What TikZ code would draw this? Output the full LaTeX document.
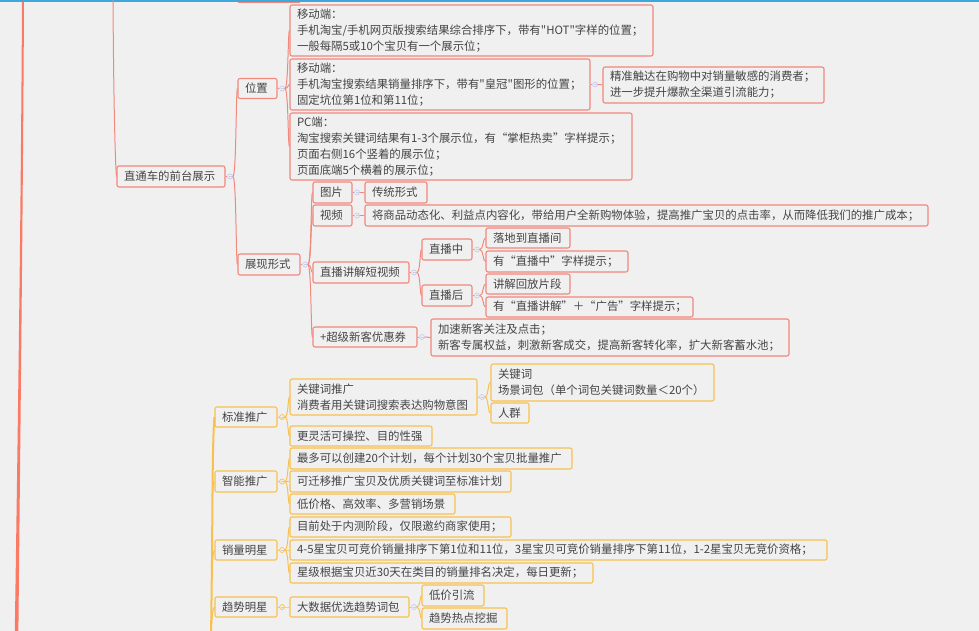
\documentclass[tikz,border=0pt]{standalone}
\usepackage{fontspec}
\usetikzlibrary{calc}
\newfontfamily\cjkfont{Noto Sans CJK SC}
\definecolor{bg}{HTML}{F0F0F0}
\definecolor{redl}{HTML}{F0897C}
\definecolor{yell}{HTML}{F9C050}
\definecolor{txt}{HTML}{444444}
\definecolor{trunk}{HTML}{FA7A66}
\definecolor{lav}{HTML}{C9CCEB}
\definecolor{blue}{HTML}{3EA8DC}
\tikzset{
  boxbase/.style={rounded corners=2pt,line width=1.1pt,fill=bg,text=txt,inner sep=0pt,align=left,
    font=\cjkfont\fontsize{11.4}{16}\selectfont},
  rbox/.style={boxbase,draw=redl},
  ybox/.style={boxbase,draw=yell},
  rlink/.style={draw=redl,line width=1pt},
  ylink/.style={draw=yell,line width=1pt},
  lavdot/.style={circle,draw=lav,fill=bg,line width=.7pt,minimum size=5pt,inner sep=0pt},
  yeldot/.style={circle,draw=yell,fill=bg,line width=.7pt,minimum size=5pt,inner sep=0pt},
}
% name, style, x1, y1, x2, y2, text
\newcommand{\nb}[7]{%
  \pgfmathsetmacro{\bw}{#5-#3}\pgfmathsetmacro{\bh}{#6-#4}%
  \pgfmathsetmacro{\tw}{#5-#3-14}%
  \node[#2,minimum width=\bw pt,minimum height=\bh pt,text width=\tw pt] (#1) at ({(#3+#5)/2},{(#4+#6)/2}) {#7};}
% parent, dot style, link style
\newcommand{\hub}[3]{%
  \node[#2] (#1-c) at ($(#1.east)+(4.5,0)$) {};
  \draw[#3] (#1.east) -- (#1-c.west);
  \draw[lav,line width=.6pt] ($(#1-c)+(-1.5,0)$) -- ($(#1-c)+(1.5,0)$);}
% parent, child, link style
\newcommand{\kid}[3]{%
  \draw[#3] (#1-c.east) .. controls ($(#1-c.east)+(3.5,0)$) and ($(#1-c.east |- #2.west)+(3,0)$) .. (#2.west);}
\begin{document}
\begin{tikzpicture}[x=1pt,y=-1pt]
\useasboundingbox (0,0) rectangle (979,631);
\clip (0,0) rectangle (979,631);
\fill[bg] (0,0) rectangle (979,631);
% top edge
\fill[blue] (0,0) rectangle (979,2.2);
\draw[redl,line width=.8pt] (238,2.6) -- (300,2.6);
% main trunk
\fill[trunk] (22,2) .. controls (21,200) and (18,420) .. (14.8,631) -- (18.4,631) .. controls (20.5,420) and (23,200) .. (24,2) -- cycle;
% red nodes
\nb{zt}{rbox}{117}{166}{225}{187}{直通车的前台展示}
\nb{wz}{rbox}{238}{78.5}{277}{98.5}{位置}
\nb{m1}{rbox}{290}{5}{653}{56}{移动端：\\手机淘宝/手机网页版搜索结果综合排序下，带有"HOT"字样的位置；\\一般每隔5或10个宝贝有一个展示位；}
\nb{m2}{rbox}{290}{59}{590}{110}{移动端：\\手机淘宝搜索结果销量排序下，带有"皇冠"图形的位置；\\固定坑位第1位和第11位；}
\nb{m3}{rbox}{290}{113}{632}{180}{PC端：\\淘宝搜索关键词结果有1-3个展示位，有“掌柜热卖”字样提示；\\页面右侧16个竖着的展示位；\\页面底端5个横着的展示位；}
\nb{m4}{rbox}{603}{67}{824}{103}{精准触达在购物中对销量敏感的消费者；\\进一步提升爆款全渠道引流能力；}
\nb{zx}{rbox}{238}{254}{300}{275}{展现形式}
\nb{tp}{rbox}{313}{182}{352}{203}{图片}
\nb{ct}{rbox}{365}{182}{427}{203}{传统形式}
\nb{sp}{rbox}{313}{205}{352}{226}{视频}
\nb{sd}{rbox}{365}{205}{928}{226}{将商品动态化、利益点内容化，带给用户全新购物体验，提高推广宝贝的点击率，从而降低我们的推广成本；}
\nb{zb}{rbox}{313}{262}{409}{283}{直播讲解短视频}
\nb{zz}{rbox}{422}{239}{472}{260}{直播中}
\nb{zh}{rbox}{422}{285}{472}{306}{直播后}
\nb{z1}{rbox}{486}{228}{570}{248}{落地到直播间}
\nb{z2}{rbox}{486}{251}{628}{272}{有“直播中”字样提示；}
\nb{z3}{rbox}{486}{274}{570}{294}{讲解回放片段}
\nb{z4}{rbox}{486}{297}{693}{317}{有“直播讲解”＋“广告”字样提示；}
\nb{cj}{rbox}{313}{327}{417}{347}{+超级新客优惠券}
\nb{cd}{rbox}{431}{319}{789}{356}{加速新客关注及点击；\\新客专属权益，刺激新客成交，提高新客转化率，扩大新客蓄水池；}
% red hubs
\hub{zt}{lavdot}{rlink}\hub{wz}{lavdot}{rlink}\hub{m2}{lavdot}{rlink}
\hub{zx}{lavdot}{rlink}\hub{tp}{lavdot}{rlink}\hub{sp}{lavdot}{rlink}
\hub{zb}{lavdot}{rlink}\hub{zz}{lavdot}{rlink}\hub{zh}{lavdot}{rlink}\hub{cj}{lavdot}{rlink}
\kid{zt}{wz}{rlink}\kid{zt}{zx}{rlink}
\kid{wz}{m1}{rlink}\kid{wz}{m2}{rlink}\kid{wz}{m3}{rlink}
\kid{m2}{m4}{rlink}
\kid{zx}{tp}{rlink}\kid{zx}{sp}{rlink}\kid{zx}{zb}{rlink}\kid{zx}{cj}{rlink}
\kid{tp}{ct}{rlink}\kid{sp}{sd}{rlink}
\kid{zb}{zz}{rlink}\kid{zb}{zh}{rlink}
\kid{zz}{z1}{rlink}\kid{zz}{z2}{rlink}\kid{zh}{z3}{rlink}\kid{zh}{z4}{rlink}
\kid{cj}{cd}{rlink}
% branch entering from above
\coordinate (topb) at (113,-2);
\draw[rlink] (topb) .. controls (113.5,90) and (115,160) .. (zt.west);
% yellow nodes
\nb{bz}{ybox}{215}{407}{277}{427}{标准推广}
\nb{gj}{ybox}{290}{379}{477}{415}{关键词推广\\消费者用关键词搜索表达购物意图}
\nb{cb}{ybox}{491}{364}{714}{401}{关键词\\场景词包（单个词包关键词数量＜20个）}
\nb{rq}{ybox}{491}{403}{529}{423}{人群}
\nb{gl}{ybox}{290}{426}{432}{446}{更灵活可操控、目的性强}
\nb{zn}{ybox}{215}{471}{277}{492}{智能推广}
\nb{n1}{ybox}{290}{448}{572}{469}{最多可以创建20个计划，每个计划30个宝贝批量推广}
\nb{n2}{ybox}{290}{471}{511}{492}{可迁移推广宝贝及优质关键词至标准计划}
\nb{n3}{ybox}{290}{494}{455}{514}{低价格、高效率、多营销场景}
\nb{xl}{ybox}{215}{540}{277}{560}{销量明星}
\nb{x1}{ybox}{290}{517}{511}{537}{目前处于内测阶段，仅限邀约商家使用；}
\nb{x2}{ybox}{290}{540}{827}{560}{4-5星宝贝可竞价销量排序下第1位和11位，3星宝贝可竞价销量排序下第11位，1-2星宝贝无竞价资格；}
\nb{x3}{ybox}{290}{563}{593}{583}{星级根据宝贝近30天在类目的销量排名决定，每日更新；}
\nb{qs}{ybox}{215}{597}{277}{617}{趋势明星}
\nb{ds}{ybox}{290}{597}{409}{617}{大数据优选趋势词包}
\nb{q1}{ybox}{422}{585}{484}{606}{低价引流}
\nb{q2}{ybox}{422}{608}{507}{629}{趋势热点挖掘}
% yellow hubs
\hub{bz}{yeldot}{ylink}\hub{zn}{yeldot}{ylink}\hub{xl}{yeldot}{ylink}\hub{qs}{yeldot}{ylink}
\hub{gj}{lavdot}{ylink}\hub{ds}{lavdot}{ylink}
\kid{bz}{gj}{ylink}\kid{bz}{gl}{ylink}
\kid{gj}{cb}{ylink}\kid{gj}{rq}{ylink}
\kid{zn}{n1}{ylink}\kid{zn}{n2}{ylink}\kid{zn}{n3}{ylink}
\kid{xl}{x1}{ylink}\kid{xl}{x2}{ylink}\kid{xl}{x3}{ylink}
\kid{qs}{ds}{ylink}\kid{ds}{q1}{ylink}\kid{ds}{q2}{ylink}
% yellow trunk entering from below
\coordinate (botb) at (211,640);
\draw[ylink,line width=2pt] (botb) -- (212,560) .. controls (212.5,500) and (212.5,440) .. (bz.west);
\draw[ylink] (212.5,500) .. controls (212.5,490) and (213,482) .. (zn.west);
\draw[ylink] (212.3,570) .. controls (212.3,560) and (213,552) .. (xl.west);
\draw[ylink] (211.7,625) .. controls (212,615) and (213,608) .. (qs.west);
\end{tikzpicture}
\end{document}
